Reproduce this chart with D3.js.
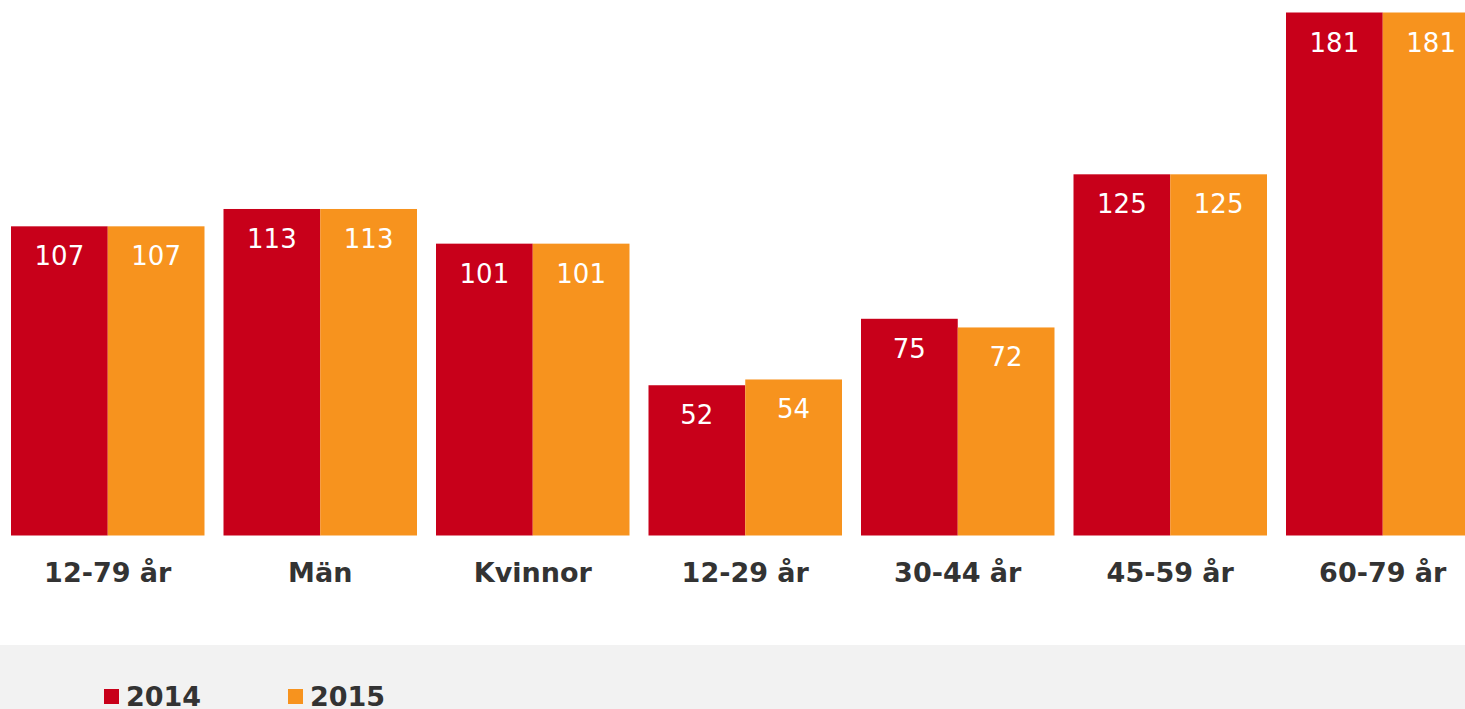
<!DOCTYPE html>
<html>
<head>
<meta charset="utf-8">
<script src="https://cdn.jsdelivr.net/npm/d3@7"></script>
<style>
html,body{margin:0;padding:0;background:#fff;overflow:hidden;}
svg{display:block;font-family:"DejaVu Sans",Verdana,sans-serif;}
</style>
</head>
<body>
<svg id="chart" width="1465" height="709"></svg>
<script>
const categories = ["12-79 år", "Män", "Kvinnor", "12-29 år", "30-44 år", "45-59 år", "60-79 år"];
const seriesNames = ["2014", "2015"];
const values2014 = [107, 113, 101, 52, 75, 125, 181];
const values2015 = [107, 113, 101, 54, 72, 125, 181];
const colors = ["#C8001A", "#F7931E"];

const svg = d3.select("#chart");
const W = 1465, H = 709;

const x0 = d3.scaleBand().domain(categories).range([11, 1479.5]).paddingInner(19/212.5).paddingOuter(0);
const x1 = d3.scaleBand().domain(seriesNames).range([0, x0.bandwidth()]).padding(0);
const y = d3.scaleLinear().domain([0, 181]).range([535.5, 12.5]);
const color = d3.scaleOrdinal().domain(seriesNames).range(colors);

const data = categories.map((c, i) => ({cat: c, vals: [
  {key: "2014", v: values2014[i]},
  {key: "2015", v: values2015[i]}
]}));

// legend background
svg.append("rect").attr("x", 0).attr("y", 645).attr("width", W).attr("height", H - 645).attr("fill", "#F2F2F2");

const g = svg.selectAll("g.grp").data(data).join("g").attr("class", "grp")
  .attr("transform", d => `translate(${x0(d.cat)},0)`);

g.selectAll("rect").data(d => d.vals).join("rect")
  .attr("x", d => x1(d.key))
  .attr("y", d => y(d.v))
  .attr("width", x1.bandwidth())
  .attr("height", d => y(0) - y(d.v))
  .attr("fill", d => color(d.key));

g.selectAll("text.val").data(d => d.vals).join("text").attr("class", "val")
  .attr("x", d => x1(d.key) + x1.bandwidth()/2)
  .attr("y", d => y(d.v) + 39)
  .attr("text-anchor", "middle")
  .attr("fill", "#fff")
  .attr("font-size", 26)
  .text(d => d.v);

// category axis labels
const xAxis = d3.axisBottom(x0).tickSize(0).tickPadding(0);
const ax = svg.append("g").attr("transform", "translate(0,535.5)").call(xAxis);
ax.select(".domain").remove();
ax.selectAll("text")
  .attr("dy", null)
  .attr("y", 46)
  .attr("font-family", "DejaVu Sans, Verdana, sans-serif")
  .attr("font-size", 27)
  .attr("font-weight", "bold")
  .attr("fill", "#333333");

// legend
const legX = [104, 288];
const leg = svg.selectAll("g.leg").data(seriesNames).join("g").attr("class", "leg")
  .attr("transform", (d, i) => `translate(${legX[i]},689)`);
leg.append("rect").attr("width", 15).attr("height", 15).attr("fill", d => color(d));
leg.append("text").attr("x", 22).attr("y", 17).attr("font-size", 27).attr("font-weight", "bold")
  .attr("fill", "#333333").text(d => d);
</script>
</body>
</html>
